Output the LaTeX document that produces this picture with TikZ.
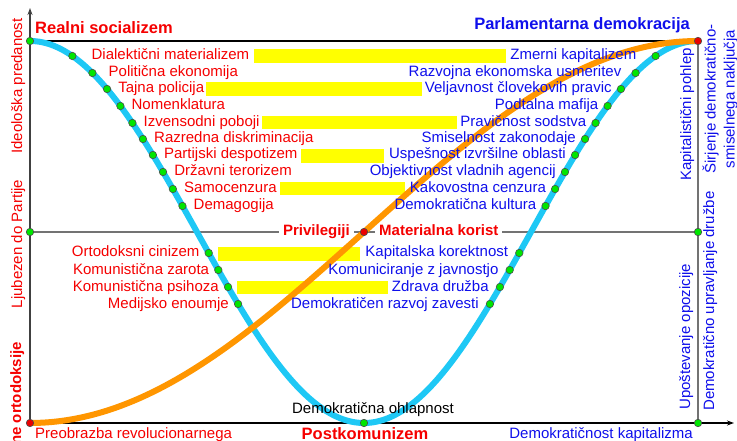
\documentclass[tikz,border=0pt]{standalone}
\usepackage{fontspec}
\setmainfont{Liberation Sans}
\usetikzlibrary{positioning,arrows.meta}

\definecolor{wavecyan}{RGB}{30,200,245}
\definecolor{pathorange}{RGB}{255,150,0}
\definecolor{sred}{RGB}{245,0,0}
\definecolor{sblue}{RGB}{15,15,235}
\definecolor{dotgreen}{RGB}{0,230,0}
\definecolor{dotred}{RGB}{235,0,0}
\definecolor{baryellow}{RGB}{255,255,0}

\newcommand{\lab}{\fontsize{15}{18}\selectfont}
\newcommand{\labb}{\fontsize{15}{18}\selectfont\bfseries}
\newcommand{\head}{\fontsize{16.5}{20}\selectfont\bfseries}

\begin{document}
\begin{tikzpicture}[x=1pt, y=-1pt,
  declare function={wx(\y)=30+1.85556*acos((232-\y)/191);
                    wy(\x)=232-191*cos(0.538922*(\x-30));
                    oy(\x)=232+191*cos(0.269461*(\x-30));},
  gdot/.style={circle, draw=black!70, line width=0.6pt, fill=dotgreen, inner sep=0pt, minimum size=7.5pt},
  rdot/.style={gdot, fill=dotred},
  redlab/.style={text=sred, font=\lab, inner sep=0pt, text height=11pt, text depth=3pt},
  bluelab/.style={redlab, text=sblue},
  midlab/.style={redlab, font=\labb, fill=white, inner xsep=4pt},
  axisline/.style={line width=1.2pt, draw=black!75, -{Stealth[length=7pt, width=5pt]}},
  gridline/.style={line width=1.3pt, draw=black!55},
  bar/.style={fill=baryellow}]
\useasboundingbox (0,0) rectangle (737,441);

% yellow bars
\fill[bar] (254,49) rectangle (506,63);
\fill[bar] (206,82) rectangle (422,96);
\fill[bar] (262,116) rectangle (457,129);
\fill[bar] (301,149) rectangle (384,163);
\fill[bar] (280,182) rectangle (405,195);
\fill[bar] (218,247) rectangle (360,261);
\fill[bar] (237,281) rectangle (388,294);

% frame
\coordinate (O) at (30,423);
\coordinate (ytip) at (30,8);
\coordinate (xtip) at (734,423);
\coordinate (TL) at (30,41);
\coordinate (TR) at (698,41);
\coordinate (ML) at (30,232);
\coordinate (MR) at (698,232);
\coordinate (BR) at (698,423);
\coordinate (mid) at (364,232);
\coordinate (low) at (364,423);

\draw[line width=1.2pt] (TL) -- (TR);
\draw[gridline] (ML) -- (MR);
\draw[gridline] (TR) -- (BR);
\draw[axisline] (O) -- (ytip);
\draw[axisline, draw=black] (O) -- (xtip);

\node[midlab, left=10pt of mid] (priv) {Privilegiji};
\node[midlab, right=11pt of mid] (korist) {Materialna korist};

% curves
\draw[wavecyan, line width=6pt] plot[domain=30:698, samples=150, smooth] (\x,{wy(\x)});
\draw[pathorange, line width=6pt] plot[domain=30:698, samples=150, smooth] (\x,{oy(\x)});

% dots on the axes
\node[gdot] (g1) at (TL) {};
\node[gdot] (g2) at (ML) {};
\node[rdot] (r0) at (O) {};
\node[rdot] (r1) at (TR) {};
\node[gdot] (g3) at (MR) {};
\node[gdot] (g4) at (BR) {};
\node[rdot] (rm) at (mid) {};
\node[gdot] (g5) at (low) {};

% left side of the wave
\node[gdot] (l1) at ({wx(56)},56) {};
\node[gdot] (l2) at ({wx(73)},73) {};
\node[gdot] (l3) at ({wx(89)},89) {};
\node[gdot] (l4) at ({wx(106)},106) {};
\node[gdot] (l5) at ({wx(123)},123) {};
\node[gdot] (l6) at ({wx(139)},139) {};
\node[gdot] (l7) at ({wx(155)},155) {};
\node[gdot] (l8) at ({wx(172)},172) {};
\node[gdot] (l9) at ({wx(189)},189) {};
\node[gdot] (l10) at ({wx(206)},206) {};
\node[gdot] (l11) at ({wx(253)},253) {};
\node[gdot] (l12) at ({wx(270)},270) {};
\node[gdot] (l13) at ({wx(287)},287) {};
\node[gdot] (l14) at ({wx(304)},304) {};

\node[redlab, right=15pt of l1] (tl1) {Dialektični materializem};
\node[redlab, right=12pt of l2] (tl2) {Politična ekonomija};
\node[redlab, right=7pt of l3] (tl3) {Tajna policija};
\node[redlab, right=7pt of l4] (tl4) {Nomenklatura};
\node[redlab, right=7pt of l5] (tl5) {Izvensodni poboji};
\node[redlab, right=7pt of l6] (tl6) {Razredna diskriminacija};
\node[redlab, right=7pt of l7] (tl7) {Partijski despotizem};
\node[redlab, right=7pt of l8] (tl8) {Državni terorizem};
\node[redlab, right=7pt of l9] (tl9) {Samocenzura};
\node[redlab, right=7pt of l10] (tl10) {Demagogija};
\node[redlab, left=5pt of l11] (tl11) {Ortodoksni cinizem};
\node[redlab, left=5pt of l12] (tl12) {Komunistična zarota};
\node[redlab, left=5pt of l13] (tl13) {Komunistična psihoza};
\node[redlab, left=5pt of l14] (tl14) {Medijsko enoumje};

% right side of the wave
\node[gdot] (r1d) at ({728-wx(56)},56) {};
\node[gdot] (r2d) at ({728-wx(73)},73) {};
\node[gdot] (r3d) at ({728-wx(89)},89) {};
\node[gdot] (r4d) at ({728-wx(106)},106) {};
\node[gdot] (r5d) at ({728-wx(123)},123) {};
\node[gdot] (r6d) at ({728-wx(139)},139) {};
\node[gdot] (r7d) at ({728-wx(155)},155) {};
\node[gdot] (r8d) at ({728-wx(172)},172) {};
\node[gdot] (r9d) at ({728-wx(189)},189) {};
\node[gdot] (r10d) at ({728-wx(206)},206) {};
\node[gdot] (r11d) at ({728-wx(253)},253) {};
\node[gdot] (r12d) at ({728-wx(270)},270) {};
\node[gdot] (r13d) at ({728-wx(287)},287) {};
\node[gdot] (r14d) at ({728-wx(304)},304) {};

\node[bluelab, left=15pt of r1d] (tr1) {Zmerni kapitalizem};
\node[bluelab, left=10pt of r2d] (tr2) {Razvojna ekonomska usmeritev};
\node[bluelab, left=5pt of r3d] (tr3) {Veljavnost človekovih pravic};
\node[bluelab, left=5pt of r4d] (tr4) {Podtalna mafija};
\node[bluelab, left=5pt of r5d] (tr5) {Pravičnost sodstva};
\node[bluelab, left=5pt of r6d] (tr6) {Smiselnost zakonodaje};
\node[bluelab, left=5pt of r7d] (tr7) {Uspešnost izvršilne oblasti};
\node[bluelab, left=5pt of r8d] (tr8) {Objektivnost vladnih agencij};
\node[bluelab, left=5pt of r9d] (tr9) {Kakovostna cenzura};
\node[bluelab, left=5pt of r10d] (tr10) {Demokratična kultura};
\node[bluelab, left=7pt of r11d] (tr11) {Kapitalska korektnost};
\node[bluelab, left=7pt of r12d] (tr12) {Komuniciranje z javnostjo};
\node[bluelab, left=7pt of r13d] (tr13) {Zdrava družba};
\node[bluelab, left=7pt of r14d] (tr14) {Demokratičen razvoj zavesti};

% titles and axis texts
\node[text=sred, font=\head, anchor=base west, inner sep=0pt] (real) at (35,34) {Realni socializem};
\node[text=sblue, font=\head, anchor=base east, inner sep=0pt] (parl) at (690,30) {Parlamentarna demokracija};
\node[text=sred, font=\head, anchor=base, inner sep=0pt] (post) at (365,439) {Postkomunizem};
\node[text=sred, font=\lab, anchor=base west, inner sep=0pt] (preo) at (35,438) {Preobrazba revolucionarnega};
\node[text=sblue, font=\lab, anchor=base east, inner sep=0pt] (demk) at (693,438) {Demokratičnost kapitalizma};
\node[font=\lab, anchor=base, inner sep=0pt] (ohla) at (373,413) {Demokratična ohlapnost};

% vertical texts
\node[redlab, rotate=90] (ideo) at (18,86) {Ideološka predanost};
\node[redlab, rotate=90] (ljub) at (18,244) {Ljubezen do Partije};
\node[redlab, font=\labb, rotate=90, anchor=east] (orto) at (17,342) {ne ortodoksije};
\node[bluelab, rotate=90, anchor=west] (pohl) at (687,181) {Kapitalistični pohlep};
\node[text=sblue, font=\fontsize{15}{19}\selectfont, inner sep=0pt, rotate=90, align=center] (sirj) at (720,99) {Širjenje demokratično-\\smiselnega naključja};
\node[bluelab, rotate=90, anchor=west] (upos) at (686,410) {Upoštevanje opozicije};
\node[bluelab, rotate=90, anchor=west] (upra) at (710,411) {Demokratično upravljanje družbe};
\end{tikzpicture}
\end{document}
